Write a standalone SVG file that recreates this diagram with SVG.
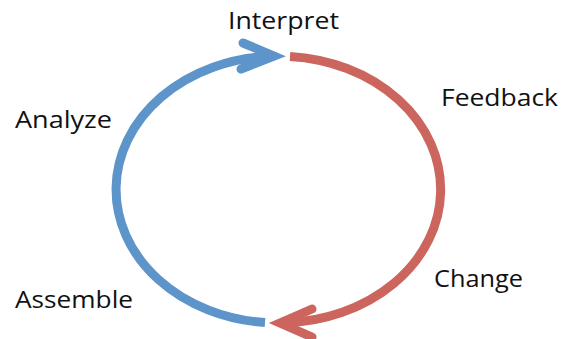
<svg xmlns="http://www.w3.org/2000/svg" width="563" height="339" viewBox="0 0 563 339">
<style>
.lbl{font-family:"Open Sans","Liberation Sans",sans-serif;font-size:23px;fill:#111;}
.blue{fill:none;stroke:#5d95cb;stroke-width:9;}
.red{fill:none;stroke:#cd655f;stroke-width:9;}
</style>
<rect width="563" height="339" fill="#fff"/>
<g id="connectors">
<path class="blue" d="M 265 322.6 A 162 133.5 0 0 1 270 56.2" stroke-linecap="butt"/>
<path class="blue" d="M 243 43 L 274 56 L 241 69" stroke-linecap="round" stroke-linejoin="miter"/>
<path class="red" d="M 290 56.4 A 162 133.5 0 0 1 284 323" stroke-linecap="butt"/>
<path class="red" d="M 312 309 L 280 323 L 312 337" stroke-linecap="round" stroke-linejoin="miter"/>
</g>
<g id="interpret"><text class="lbl" x="228" y="29" textLength="111" lengthAdjust="spacingAndGlyphs">Interpret</text></g>
<g id="feedback"><text class="lbl" x="441" y="106" textLength="117" lengthAdjust="spacingAndGlyphs">Feedback</text></g>
<g id="change"><text class="lbl" x="434" y="287" textLength="89" lengthAdjust="spacingAndGlyphs">Change</text></g>
<g id="assemble"><text class="lbl" x="15" y="308" textLength="118" lengthAdjust="spacingAndGlyphs">Assemble</text></g>
<g id="analyze"><text class="lbl" x="15" y="128" textLength="97" lengthAdjust="spacingAndGlyphs">Analyze</text></g>
</svg>
